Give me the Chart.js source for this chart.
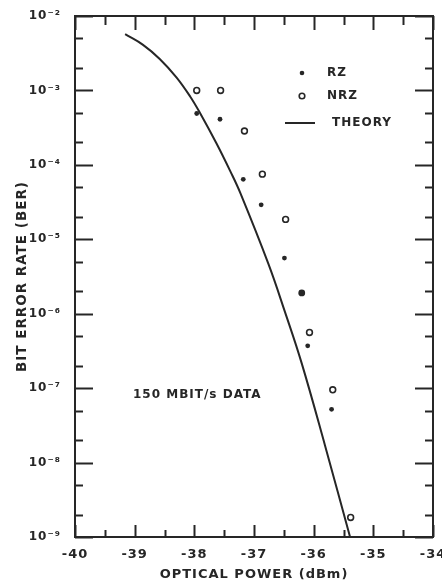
<!DOCTYPE html>
<html>
<head>
<meta charset="utf-8">
<script src="https://cdn.jsdelivr.net/npm/chart.js@4.4.1/dist/chart.umd.min.js"></script>
<style>
  html, body { margin: 0; padding: 0; background: #ffffff; }
  #wrap { width: 442px; height: 588px; position: relative; }
  canvas { display: block; }
</style>
</head>
<body>
<div id="wrap"><canvas id="c" width="442" height="588"></canvas></div>
<script>
// ---- data ----
const rzPower = [-37.96, -37.57, -37.18, -36.88, -36.49, -36.20, -36.10, -35.70];
const rzBer   = [4.9e-4, 4.1e-4, 6.4e-5, 2.9e-5, 5.6e-6, 1.9e-6, 3.7e-7, 5.2e-8];

const nrzPower = [-37.96, -37.56, -37.16, -36.86, -36.47, -36.07, -35.68, -35.38];
const nrzBer   = [1.0e-3, 1.0e-3, 2.85e-4, 7.5e-5, 1.85e-5, 5.6e-7, 9.5e-8, 1.83e-9];

const theoryPower = [-39.16, -38.86, -38.58, -38.30, -38.07, -37.90, -37.63, -37.40, -37.23, -36.76, -36.48, -36.20, -35.81, -35.39];
const theoryBer   = [5.7e-3, 4.1e-3, 2.65e-3, 1.5e-3, 8.3e-4, 4.9e-4, 1.95e-4, 8.3e-5, 4.2e-5, 4.7e-6, 1.05e-6, 2.15e-7, 1.7e-8, 1.0e-9];

const xTickValues = [-40, -39, -38, -37, -36, -35, -34];
const xTickLabels = ['-40', '-39', '-38', '-37', '-36', '-35', '-34'];
const yTickValues = [1e-9, 1e-8, 1e-7, 1e-6, 1e-5, 1e-4, 1e-3, 1e-2];
const yTickLabels = ['10⁻⁹', '10⁻⁸', '10⁻⁷', '10⁻⁶', '10⁻⁵', '10⁻⁴', '10⁻³', '10⁻²'];

const seriesNames = ['RZ', 'NRZ', 'THEORY'];
const noteText = '150 MBIT/s DATA';
const xTitle = 'OPTICAL POWER (dBm)';
const yTitle = 'BIT ERROR RATE (BER)';

// ---- styling ----
const INK = '#262626';
const FONT = '"DejaVu Sans", "Liberation Sans", sans-serif';

const pts = (xs, ys) => xs.map((x, i) => ({ x: x, y: ys[i] }));

const frameAndTicks = {
  id: 'frameAndTicks',
  beforeDraw(chart) {
    chart.ctx.letterSpacing = '1px';
  },
  afterDraw(chart) {
    const { ctx, chartArea: a, scales: { x, y } } = chart;
    ctx.save();
    ctx.strokeStyle = INK;
    ctx.lineWidth = 2;
    ctx.lineCap = 'butt';
    ctx.strokeRect(a.left, a.top, a.right - a.left, a.bottom - a.top);
    const seg = (x1, y1, x2, y2) => { ctx.beginPath(); ctx.moveTo(x1, y1); ctx.lineTo(x2, y2); ctx.stroke(); };
    // y inner ticks (decades + 2,5 minors)
    const yMin = y.min, yMax = y.max;
    for (let e = -9; e <= -2; e++) {
      [1, 2, 5].forEach(m => {
        const v = m * Math.pow(10, e);
        if (v < yMin * 0.999 || v > yMax * 1.001) return;
        const py = Math.round(y.getPixelForValue(v)) + 0.5;
        const len = m === 1 ? 18 : 8;
        seg(a.left, py, a.left + len, py);
        seg(a.right, py, a.right - len, py);
      });
    }
    // x inner ticks (units + halves)
    for (let k = 0; k <= 12; k++) {
      const v = x.min + k * 0.5;
      const px = Math.round(x.getPixelForValue(v)) + 0.5;
      const major = k % 2 === 0;
      seg(px, a.bottom, px, a.bottom - (major ? 12 : 7));
      seg(px, a.top, px, a.top + (major ? 14 : 9));
    }
    // legend
    ctx.letterSpacing = '1px';
    ctx.font = 'bold 12px ' + FONT;
    ctx.fillStyle = INK;
    ctx.textBaseline = 'middle';
    ctx.textAlign = 'left';
    const lx = a.left + 227, tx = a.left + 252;
    const ly = [a.top + 57, a.top + 80, a.top + 107];
    ctx.beginPath(); ctx.arc(lx, ly[0], 2.3, 0, Math.PI * 2); ctx.fill();
    ctx.fillText(seriesNames[0], tx, ly[0]);
    ctx.lineWidth = 1.6;
    ctx.beginPath(); ctx.arc(lx, ly[1], 2.8, 0, Math.PI * 2); ctx.stroke();
    ctx.fillText(seriesNames[1], tx, ly[1]);
    ctx.lineWidth = 2;
    seg(lx - 17, ly[2], lx + 13, ly[2]);
    ctx.fillText(seriesNames[2], tx + 5, ly[2]);
    // note
    ctx.fillText(noteText, a.left + 58, a.top + 379);
    ctx.restore();
  }
};

new Chart(document.getElementById('c'), {
  type: 'scatter',
  data: {
    datasets: [
      {
        label: seriesNames[2],
        type: 'line',
        data: pts(theoryPower, theoryBer),
        borderColor: INK,
        borderWidth: 2,
        pointRadius: 0,
        fill: false,
        tension: 0.4,
        order: 3
      },
      {
        label: seriesNames[0],
        data: pts(rzPower, rzBer),
        pointStyle: 'circle',
        pointRadius: [2.4, 2.4, 2.4, 2.4, 2.4, 3.4, 2.4, 2.4],
        backgroundColor: INK,
        borderColor: INK,
        borderWidth: 0,
        order: 1
      },
      {
        label: seriesNames[1],
        data: pts(nrzPower, nrzBer),
        pointStyle: 'circle',
        pointRadius: 2.9,
        backgroundColor: '#ffffff',
        borderColor: INK,
        borderWidth: 1.6,
        order: 2
      }
    ]
  },
  options: {
    responsive: false,
    animation: false,
    devicePixelRatio: 1,
    layout: { padding: { top: 16, right: 9, left: 0, bottom: 0 } },
    plugins: { legend: { display: false }, tooltip: { enabled: false } },
    scales: {
      x: {
        type: 'linear',
        min: -40, max: -34,
        grid: { display: false, drawTicks: false },
        border: { display: false },
        afterBuildTicks: s => { s.ticks = xTickValues.map(v => ({ value: v })); },
        afterFit: s => { s.height = 51; s.paddingLeft = 0; s.paddingRight = 0; },
        ticks: {
          color: INK,
          padding: 10,
          maxRotation: 0,
          font: { family: FONT, size: 13, weight: 'bold' },
          callback: v => xTickLabels[xTickValues.indexOf(v)]
        },
        title: {
          display: true,
          text: xTitle,
          color: INK,
          padding: { top: 0, bottom: 6 },
          font: { family: FONT, size: 13, weight: 'bold' }
        }
      },
      y: {
        type: 'logarithmic',
        min: 1e-9, max: 1e-2,
        grid: { display: false, drawTicks: false },
        border: { display: false },
        afterBuildTicks: s => { s.ticks = yTickValues.map(v => ({ value: v, major: true })); },
        afterFit: s => { s.width = 75; s.paddingTop = 0; s.paddingBottom = 0; },
        ticks: {
          color: INK,
          padding: 14,
          font: { family: FONT, size: 12, weight: 'bold' },
          callback: (v, i) => yTickLabels[yTickValues.indexOf(v)] ?? ''
        },
        title: {
          display: true,
          text: yTitle,
          color: INK,
          padding: { top: 14, bottom: 0 },
          font: { family: FONT, size: 13.5, weight: 'bold' }
        }
      }
    }
  },
  plugins: [frameAndTicks]
});
</script>
</body>
</html>
